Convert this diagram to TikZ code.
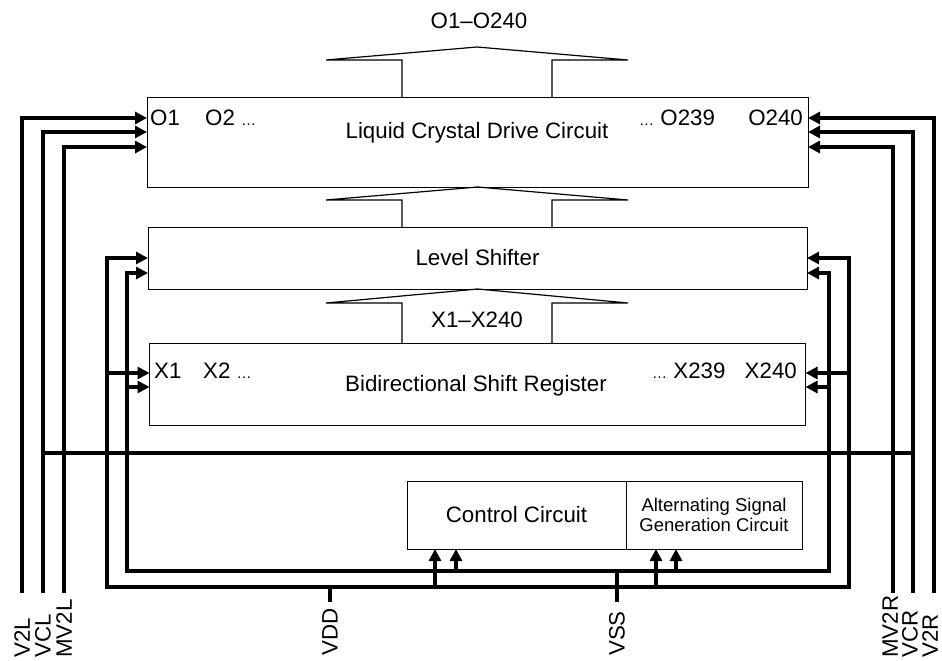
\documentclass[tikz,border=0pt]{standalone}
\usepackage{fontspec}
\setmainfont{Liberation Sans}
\usetikzlibrary{positioning,arrows.meta}
\newcommand{\tinydots}{{\fontsize{15}{15}\selectfont\ldots}}

\begin{document}
\begin{tikzpicture}[
        x=1pt, y=-1pt,
        box/.style={rectangle, draw=black, line width=1pt, inner sep=0pt, outer sep=0pt, align=center, font=\fontsize{22.3}{26}\selectfont},
        txt/.style={inner sep=0pt, font=\fontsize{22.3}{26}\selectfont},
        padlabel/.style={txt, rotate=90, anchor=west},
        wire/.style={line width=3.6pt},
        feed/.style={wire, -{Triangle[length=12pt, width=12pt]}},
        bus/.style={line width=1.2pt, line join=miter}
    ]
        \useasboundingbox (0,0) rectangle (942,661);

        \node[box, minimum width=661pt, minimum height=90pt] (lcd) at (477.5,142) {};
        \node[box, minimum width=659pt, minimum height=62pt, below=40pt of lcd] (ls) {Level Shifter};
        \node[box, minimum width=656pt, minimum height=82pt, below=54pt of ls] (bsr) {};
        \node[box, minimum width=219pt, minimum height=68pt] (ctrl) at (516.5,515) {Control Circuit};
        \node[box, minimum width=176pt, minimum height=68pt, right=0pt of ctrl, font=\fontsize{18.5}{20}\selectfont] (alt) {Alternating Signal\\Generation Circuit};

        \node[txt, anchor=base] (lcdname) at (477,138) {Liquid Crystal Drive Circuit};
        \node[txt, anchor=base west] (o1) at (150,125) {O1};
        \node[txt, anchor=base west] (o2) at (205,125) {O2 \tinydots};
        \node[txt, anchor=base west] (o239) at (639,125) {\tinydots\ O239};
        \node[txt, anchor=base east] (o240) at (803,125) {O240};
        \node[txt, anchor=base] (bsrname) at (476,391) {Bidirectional Shift Register};
        \node[txt, anchor=base west] (x1) at (154,378) {X1};
        \node[txt, anchor=base west] (x2) at (203,378) {X2 \tinydots};
        \node[txt, anchor=base west] (x239) at (652,378) {\tinydots\ X239};
        \node[txt, anchor=base east] (x240) at (797,378) {X240};
        \node[txt] (obus) at (479,21) {O1--O240};
        \node[txt] (xbus) at (477,320) {X1--X240};

        \draw[bus] (lcd.north -| 402,0) -- (402,60) -- (326,60) -- (477,47) -- (628,60) -- (552,60) -- (lcd.north -| 552,0);
        \draw[bus] (ls.north -| 402,0) -- (402,200) -- (326,200) -- (lcd.south) -- (628,200) -- (552,200) -- (ls.north -| 552,0);
        \draw[bus] (bsr.north -| 402,0) -- (402,303) -- (326,303) -- (ls.south) -- (628,303) -- (552,303) -- (bsr.north -| 552,0);

        \coordinate (v2l) at (22,593);
        \coordinate (vcl) at (43,593);
        \coordinate (mv2l) at (64,593);
        \coordinate (mv2r) at (893,593);
        \coordinate (vcr) at (913,593);
        \coordinate (v2r) at (934,593);
        \node[padlabel] (v2ltxt) at (22,658) {V2L};
        \node[padlabel] (vcltxt) at (43,658) {VCL};
        \node[padlabel] (mv2ltxt) at (64,658) {MV2L};
        \node[padlabel] (mv2rtxt) at (890,658) {MV2R};
        \node[padlabel] (vcrtxt) at (910,658) {VCR};
        \node[padlabel] (v2rtxt) at (930,658) {V2R};

        \draw[feed] (v2l) |- (lcd.west |- 0,118);
        \draw[feed] (vcl) |- (lcd.west |- 0,132);
        \draw[feed] (mv2l) |- (lcd.west |- 0,147);
        \draw[feed] (v2r) |- (lcd.east |- 0,118);
        \draw[feed] (vcr) |- (lcd.east |- 0,132);
        \draw[feed] (mv2r) |- (lcd.east |- 0,147);
        \draw[wire] (vcl |- 0,453) -- (vcr |- 0,453);

        \coordinate (vdd) at (330,602);
        \coordinate (vss) at (617,602);
        \node[padlabel] (vddtxt) at (330,656) {VDD};
        \node[padlabel] (vsstxt) at (617,656) {VSS};

        \draw[wire] (vdd) -- (330,587) coordinate (vddbus);
        \draw[feed] (vddbus) -| (107,258) -- (ls.west |- 0,258);
        \draw[feed] (vddbus) -| (849,258) -- (ls.east |- 0,258);
        \draw[feed] (107,373) -- (bsr.west |- 0,373);
        \draw[feed] (849,373) -- (bsr.east |- 0,373);
        \draw[feed] (435,587) -- (ctrl.south -| 435,0);
        \draw[feed] (656,587) -- (alt.south -| 656,0);

        \draw[wire] (vss) -- (617,571) coordinate (vssbus);
        \draw[feed] (vssbus) -| (127,273) -- (ls.west |- 0,273);
        \draw[feed] (vssbus) -| (829,273) -- (ls.east |- 0,273);
        \draw[feed] (127,387) -- (bsr.west |- 0,387);
        \draw[feed] (829,387) -- (bsr.east |- 0,387);
        \draw[feed] (456,571) -- (ctrl.south -| 456,0);
        \draw[feed] (676,571) -- (alt.south -| 676,0);
    \end{tikzpicture}
\end{document}
